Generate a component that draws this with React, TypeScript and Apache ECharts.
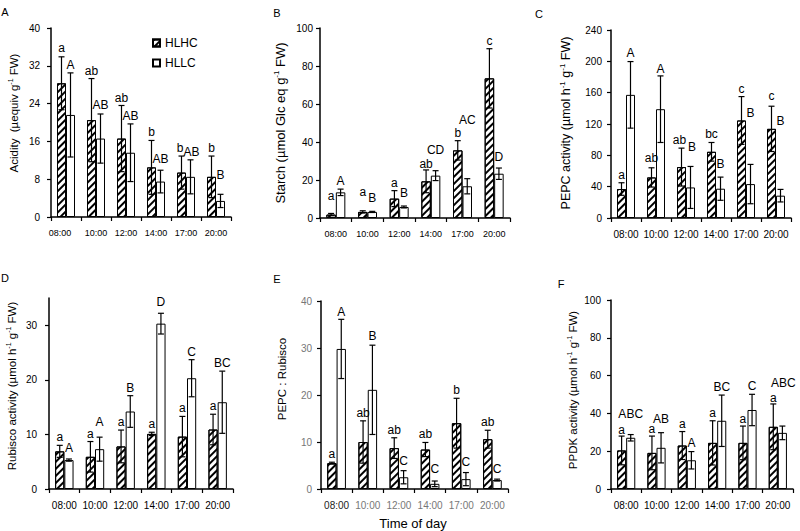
import React, { useEffect, useRef } from 'react';
import * as echarts from 'echarts';

const categories = ['08:00', '10:00', '12:00', '14:00', '17:00', '20:00'];

// A: Acidity
const acidityHLHC = [28.3, 20.5, 16.6, 10.5, 9.4, 8.5];
const acidityHLHCErr = [5.6, 8.8, 7.0, 5.7, 3.5, 4.4];
const acidityHLLC = [21.6, 16.6, 13.6, 7.5, 8.5, 3.4];
const acidityHLLCErr = [8.9, 5.2, 6.1, 2.4, 3.6, 1.4];
const acidityLetHLHC = ['a', 'ab', 'ab', 'b', 'b', 'b'];
const acidityLetHLLC = ['A', 'AB', 'AB', 'AB', 'AB', 'B'];

// B: Starch
const starchHLHC = [1.8, 3.2, 10.2, 19.3, 35.6, 73.5];
const starchHLHCErr = [0.6, 0.6, 4.2, 6.0, 5.1, 15.6];
const starchHLLC = [13.5, 3.2, 5.8, 22.3, 16.7, 23.3];
const starchHLLCErr = [1.7, 0.3, 0.5, 2.6, 4.0, 3.0];
const starchLetHLHC = ['a', 'a', 'a', 'ab', 'b', 'c'];
const starchLetHLLC = ['A', 'B', 'B', 'CD', 'AC', 'D'];

// C: PEPC activity
const pepcHLHC = [37, 51.8, 65, 84.5, 124.5, 113.8];
const pepcHLHCErr = [8, 12.3, 24.2, 11.9, 30.5, 28.9];
const pepcHLLC = [157.2, 138.9, 39, 37.4, 43.3, 28.5];
const pepcHLLCErr = [42.5, 42.5, 26.8, 14.8, 25.1, 8];
const pepcLetHLHC = ['a', 'ab', 'ab', 'bc', 'c', 'c'];
const pepcLetHLLC = ['A', 'A', 'B', 'B', 'B', 'B'];

// D: Rubisco activity
const rubiscoHLHC = [6.9, 5.9, 7.8, 10.1, 9.6, 10.9];
const rubiscoHLHCErr = [1.1, 2.8, 3.0, 0.3, 3.7, 2.8];
const rubiscoHLLC = [5.3, 7.3, 14.2, 30.3, 20.3, 15.9];
const rubiscoHLLCErr = [0.2, 2.2, 2.9, 1.9, 3.4, 5.7];
const rubiscoLetHLHC = ['a', 'a', 'a', 'a', 'a', 'a'];
const rubiscoLetHLLC = ['A', 'A', 'B', 'D', 'C', 'BC'];

// E: PEPC : Rubisco
const ratioHLHC = [5.5, 10.0, 8.7, 8.4, 14.0, 10.6];
const ratioHLHCErr = [0.2, 4.5, 2.2, 1.5, 5.3, 1.9];
const ratioHLLC = [29.8, 21.1, 2.5, 1.1, 2.1, 1.9];
const ratioHLLCErr = [6.3, 9.5, 1.4, 0.6, 1.4, 0.2];
const ratioLetHLHC = ['a', 'ab', 'ab', 'ab', 'b', 'ab'];
const ratioLetHLLC = ['A', 'B', 'C', 'C', 'C', 'C'];

// F: PPDK activity
const ppdkHLHC = [20.4, 19.1, 23.0, 24.4, 24.4, 32.9];
const ppdkHLHCErr = [7.6, 8.9, 7.4, 11.7, 8.9, 12.1];
const ppdkHLLC = [27.1, 21.8, 15.2, 36.1, 41.8, 29.7];
const ppdkHLLCErr = [1.7, 8.0, 4.6, 13.6, 8.3, 3.6];
const ppdkLetHLHC = ['a', 'a', 'a', 'a', 'a', 'a'];
const ppdkLetHLLC = ['ABC', 'AB', 'A', 'BC', 'C', 'ABC'];

// y-axis scales [min, max, interval]
const scaleA = [0, 40, 8];
const scaleB = [0, 100, 20];
const scaleC = [0, 240, 40];
const scaleD = [0, 35, 10];
const scaleE = [0, 40, 10];
const scaleF = [0, 100, 20];

const FONT = '"Liberation Sans", Arial, Helvetica, sans-serif';

// layout: grids, label sizes, extra letter lifts / x nudges (px)
const Z6 = [0, 0, 0, 0, 0, 0];
const layout = [
  { grid: { left: 51, top: 28, width: 180, height: 189 }, xFont: 9, firstPad: 12, yMargin: 11, liftH: [1, 0, -1, 0, 0, 0], liftL: [0, 1, 0, 3, 0, 11], dxH: [0, 0, 0, 0, -1.5, 0], dxL: [0, 0, 0, 0, 1, 0] },
  { grid: { left: 320, top: 28, width: 190, height: 190 }, xFont: 9, firstPad: 0, yMargin: 7, liftH: [9, 11, 0, -2, 0, 0], liftL: [0, 5, 5, 13, 51, 3], dxH: Z6, dxL: Z6 },
  { grid: { left: 611, top: 30, width: 180, height: 188 }, xFont: 10, firstPad: 0, yMargin: 9, liftH: [0, 2, 0, 0, 0, 2], liftL: [1, -1, 11, 5, 43, 60], dxH: [0, 0, -2, 0, 0, 0], dxL: [0, 0, 1.5, 0, 0, 0] },
  { grid: { left: 49, top: 298, width: 184, height: 191 }, xFont: 10, firstPad: 0, yMargin: 12, liftH: Z6, liftL: [3, 7, 0, 3, 0, 0], dxH: Z6, dxL: Z6 },
  { grid: { left: 321, top: 301, width: 187, height: 188 }, xFont: 10, firstPad: 0, yMargin: 9, liftH: Z6, liftL: [-1, 1, 2, 4, 3, 2], dxH: Z6, dxL: Z6 },
  { grid: { left: 611, top: 300, width: 182, height: 189 }, xFont: 10, firstPad: 0, yMargin: 10, liftH: [-2, -1, 0, 0, -1, -2], liftL: [13, 6, 1, 0, 0, 35], dxH: Z6, dxL: [0, 0, 0, 0, 0, 1] },
];

const panels = [
  { scale: scaleA, h: acidityHLHC, he: acidityHLHCErr, l: acidityHLLC, le: acidityHLLCErr, lh: acidityLetHLHC, ll: acidityLetHLLC, gray: false },
  { scale: scaleB, h: starchHLHC, he: starchHLHCErr, l: starchHLLC, le: starchHLLCErr, lh: starchLetHLHC, ll: starchLetHLLC, gray: false },
  { scale: scaleC, h: pepcHLHC, he: pepcHLHCErr, l: pepcHLLC, le: pepcHLLCErr, lh: pepcLetHLHC, ll: pepcLetHLLC, gray: false },
  { scale: scaleD, h: rubiscoHLHC, he: rubiscoHLHCErr, l: rubiscoHLLC, le: rubiscoHLLCErr, lh: rubiscoLetHLHC, ll: rubiscoLetHLLC, gray: false },
  { scale: scaleE, h: ratioHLHC, he: ratioHLHCErr, l: ratioHLLC, le: ratioHLLCErr, lh: ratioLetHLHC, ll: ratioLetHLLC, gray: true },
  { scale: scaleF, h: ppdkHLHC, he: ppdkHLHCErr, l: ppdkHLLC, le: ppdkHLLCErr, lh: ppdkLetHLHC, ll: ppdkLetHLLC, gray: false },
];

const panelLetters = [
  { t: 'A', x: 5, y: 12 },
  { t: 'B', x: 277, y: 13 },
  { t: 'C', x: 539, y: 14 },
  { t: 'D', x: 5, y: 278 },
  { t: 'E', x: 277, y: 279 },
  { t: 'F', x: 561, y: 284 },
];

const yTitles = [
  { parts: [['n', 'Acidity  (µequiv g'], ['s', '-1'], ['n', ' FW)']], x: 14, y: 113, size: 11.5 },
  { parts: [['n', 'Starch (µmol Glc eq g'], ['s', '-1'], ['n', ' FW)']], x: 280, y: 123, size: 13 },
  { parts: [['n', 'PEPC activity (µmol h'], ['s', '-1'], ['n', ' g'], ['s', '-1'], ['n', ' FW)']], x: 566, y: 123, size: 12.5 },
  { parts: [['n', 'Rubisco activity (µmol h'], ['s', '-1'], ['n', ' g'], ['s', '-1'], ['n', ' FW)']], x: 12, y: 386, size: 11.5 },
  { parts: [['n', 'PEPC : Rubisco']], x: 282, y: 379, size: 11.5 },
  { parts: [['n', 'PPDK activity (µmol h'], ['s', '-1'], ['n', ' g'], ['s', '-1'], ['n', ' FW)']], x: 573, y: 390, size: 11.5 },
];

const hatch = {
  symbol: 'rect',
  symbolSize: 1,
  color: '#000',
  dashArrayX: [1, 0],
  dashArrayY: [2, 3],
  rotation: -Math.PI / 4,
};

function errSeries(pi: number, vals: number[], errs: number[], letters: string[], lifts: number[], dxs: number[], side: number, name: string) {
  return {
    type: 'custom',
    name,
    xAxisIndex: pi,
    yAxisIndex: pi,
    z: 5,
    silent: true,
    clip: false,
    encode: { x: 0, y: 1 },
    data: vals.map((v, i) => [i, v, errs[i]]),
    renderItem: (params: any, api: any) => {
      const i = params.dataIndex;
      const v = api.value(1);
      const e = api.value(2);
      const band = api.size([1, 0])[0];
      const c = api.coord([i, v]);
      const x = c[0] + side * band * 0.15;
      const yTop = api.coord([i, v + e])[1];
      const yBot = api.coord([i, Math.max(v - e, 0)])[1];
      const cap = 3;
      const st = { stroke: '#000', lineWidth: 1.2 };
      const lift = lifts[i] || 0;
      return {
        type: 'group',
        children: [
          { type: 'line', shape: { x1: x, y1: yTop, x2: x, y2: yBot }, style: st },
          { type: 'line', shape: { x1: x - cap, y1: yTop, x2: x + cap, y2: yTop }, style: st },
          { type: 'line', shape: { x1: x - cap, y1: yBot, x2: x + cap, y2: yBot }, style: st },
          {
            type: 'text',
            x: x + (dxs[i] || 0),
            y: yTop - 2 - lift,
            style: {
              text: letters[i],
              fill: '#000',
              font: '12px ' + FONT,
              fontSize: 12,
              fontFamily: FONT,
              align: 'center',
              verticalAlign: 'bottom',
              textAlign: 'center',
              textVerticalAlign: 'bottom',
            },
          },
        ],
      };
    },
  };
}

export default function App() {
  const ref = useRef<HTMLDivElement>(null);

  useEffect(() => {
    if (!ref.current) return;
    const chart = echarts.init(ref.current, undefined, { renderer: 'svg' });

    const grid: any[] = [];
    const xAxis: any[] = [];
    const yAxis: any[] = [];
    const series: any[] = [];

    panels.forEach((p, pi) => {
      const lay = layout[pi];
      grid.push({ ...lay.grid, containLabel: false });
      const labelColor = p.gray ? '#777' : '#000';
      xAxis.push({
        type: 'category',
        gridIndex: pi,
        data: categories,
        boundaryGap: true,
        axisLine: { show: true, lineStyle: { color: '#000', width: 1.5 } },
        axisTick: { show: true, length: 4, lineStyle: { color: '#000', width: 1.2 } },
        axisLabel: {
          fontSize: lay.xFont,
          fontFamily: FONT,
          margin: 11,
          interval: 0,
          color: p.gray ? (_v: any, idx: number) => (idx === 0 ? '#222' : '#777') : '#000',
          formatter: (v: string, idx: number) => (idx === 0 && lay.firstPad ? `{o|${v}}` : v),
          rich: {
            o: { fontSize: lay.xFont, fontFamily: FONT, color: labelColor, padding: [0, lay.firstPad, 0, 0] },
          },
        },
        splitLine: { show: false },
      });
      yAxis.push({
        type: 'value',
        gridIndex: pi,
        min: p.scale[0],
        max: p.scale[1],
        interval: p.scale[2],
        axisLine: { show: true, lineStyle: { color: '#000', width: 1.5 } },
        axisTick: { show: true, length: 4, lineStyle: { color: '#000', width: 1.2 } },
        axisLabel: { fontSize: 10, fontFamily: FONT, color: labelColor, margin: lay.yMargin, showMaxLabel: pi !== 3 },
        splitLine: { show: false },
      });
      series.push({
        type: 'bar',
        name: 'HLHC',
        xAxisIndex: pi,
        yAxisIndex: pi,
        data: p.h,
        barGap: '0%',
        barCategoryGap: '40%',
        itemStyle: { color: '#fff', borderColor: '#000', borderWidth: 1, decal: hatch },
        emphasis: { disabled: true },
        z: 2,
      });
      series.push({
        type: 'bar',
        name: 'HLLC',
        xAxisIndex: pi,
        yAxisIndex: pi,
        data: p.l,
        barGap: '0%',
        barCategoryGap: '40%',
        itemStyle: { color: '#fff', borderColor: '#000', borderWidth: 1 },
        emphasis: { disabled: true },
        z: 2,
      });
      series.push(errSeries(pi, p.h, p.he, p.lh, lay.liftH, lay.dxH, -1, 'errH' + pi));
      series.push(errSeries(pi, p.l, p.le, p.ll, lay.liftL, lay.dxL, 1, 'errL' + pi));
    });

    const graphic: any[] = [];
    panelLetters.forEach((pl) => {
      graphic.push({
        type: 'text',
        x: pl.x,
        y: pl.y,
        style: { text: pl.t, font: '11px ' + FONT, fill: '#000', align: 'center', verticalAlign: 'middle', textAlign: 'center', textVerticalAlign: 'middle' },
      });
    });
    yTitles.forEach((yt) => {
      const text = yt.parts.map(([k, s]) => `{${k}|${s}}`).join('');
      graphic.push({
        type: 'text',
        x: yt.x,
        y: yt.y,
        rotation: Math.PI / 2,
        style: {
          text,
          align: 'center',
          verticalAlign: 'middle',
          textAlign: 'center',
          textVerticalAlign: 'middle',
          fill: '#000',
          rich: {
            n: { fontSize: yt.size, fontFamily: FONT, fill: '#000', color: '#000', lineHeight: yt.size + 3 },
            s: { fontSize: Math.round(yt.size * 0.62), fontFamily: FONT, fill: '#000', color: '#000', verticalAlign: 'top', lineHeight: yt.size + 3 },
          },
        },
      });
    });
    graphic.push({
      type: 'text',
      x: 413,
      y: 523,
      style: { text: 'Time of day', font: '13px ' + FONT, fill: '#000', align: 'center', verticalAlign: 'middle', textAlign: 'center', textVerticalAlign: 'middle' },
    });

    chart.setOption({
      animation: false,
      backgroundColor: '#fff',
      textStyle: { fontFamily: FONT },
      legend: {
        data: ['HLHC', 'HLLC'],
        left: 147,
        top: 32,
        orient: 'vertical',
        icon: 'rect',
        itemWidth: 7,
        itemHeight: 7,
        itemGap: 8,
        selectedMode: false,
        textStyle: { fontSize: 12, fontFamily: FONT, color: '#000' },
      },
      grid,
      xAxis,
      yAxis,
      series,
      graphic,
    });

    return () => chart.dispose();
  }, []);

  return <div ref={ref} style={{ width: 800, height: 531, position: 'absolute', left: 0, top: 0 }} />;
}
